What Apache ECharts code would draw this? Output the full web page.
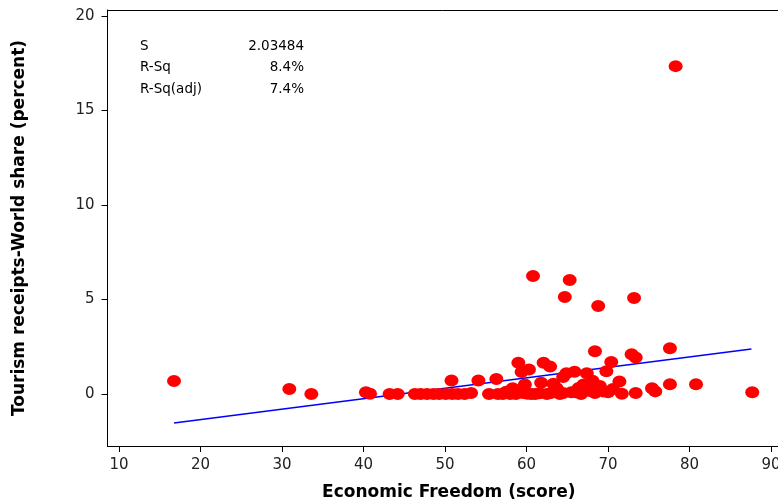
<!DOCTYPE html>
<html>
<head>
<meta charset="utf-8">
<script src="https://cdn.jsdelivr.net/npm/echarts@6/dist/echarts.min.js"></script>
<style>html,body{margin:0;padding:0;background:#fff}#c{width:778px;height:503px}</style>
</head>
<body>
<div id="c"></div>
<script>
// Economic Freedom score (x) and tourism receipts world share % (y)
const freedom = [16.75,30.9,33.6,40.3,40.8,43.2,44.2,46.3,47.0,47.8,48.6,49.3,50.1,50.8,50.9,51.6,52.4,53.2,54.1,55.4,
  56.3,56.5,57.1,57.5,58.0,58.3,58.7,59.0,59.4,59.8,60.1,60.6,60.8,60.3,61.1,61.6,61.8,62.1,62.5,62.9,
  63.0,63.3,63.7,64.1,64.5,64.7,64.9,65.3,65.5,65.9,66.4,66.7,67.0,67.4,67.8,68.1,68.4,68.8,69.0,69.4,
  69.8,70.4,70.6,71.4,71.7,72.9,73.2,73.4,73.4,75.4,75.8,77.6,77.6,78.3,80.8,87.7,59.6,64.5,66.0,68.4,70.0];
const share = [0.69,0.26,0.0,0.1,0.02,0.0,0.0,0.0,0.0,0.0,0.0,0.0,0.0,0.72,0.0,0.0,0.0,0.05,0.72,0.0,
  0.8,0.0,0.0,0.12,0.0,0.3,0.0,1.66,1.16,0.5,0.02,0.0,6.24,1.3,0.0,0.04,0.6,1.66,0.0,1.45,
  0.05,0.55,0.3,0.0,0.9,5.13,1.1,6.03,0.1,1.18,0.32,0.0,0.5,1.1,0.16,0.7,2.26,4.66,0.42,0.14,
  1.2,1.69,0.26,0.66,0.02,2.1,5.08,1.93,0.06,0.3,0.14,2.42,0.52,17.35,0.52,0.1,0.05,0.05,0.1,0.05,0.1];
// fitted line end points
const fitX = [16.75, 87.6];
const fitY = [-1.53, 2.38];
const xTicks = [10,20,30,40,50,60,70,80,90];
const yTicks = [0,5,10,15,20];
const statNames = ['S','R-Sq','R-Sq(adj)'];
const statValues = ['2.03484','8.4%','7.4%'];

const pts = freedom.map((v,i)=>[v, share[i]]);
const fit = fitX.map((v,i)=>[v, fitY[i]]);
const chart = echarts.init(document.getElementById('c'));
const font = 'DejaVu Sans, Verdana, sans-serif';
const graphics = [];
statNames.forEach((n,i)=>{
  graphics.push({type:'text', left:140, top:39+i*21.5, style:{text:n, font:'13.5px '+font, fill:'#000'}});
  graphics.push({type:'text', right:474, top:39+i*21.5, style:{text:statValues[i], font:'13.5px '+font, fill:'#000', textAlign:'right'}});
});
const xMin = 8.59, xMax = 90.86;
chart.setOption({
  animation:false,
  backgroundColor:'#fff',
  grid:{left:107.5, top:10, right:0, bottom:57, show:false, containLabel:false, outerBoundsMode:'none'},
  xAxis:[{type:'value', min:xMin, max:xMax,
    name:'Economic Freedom (score)', nameLocation:'middle', nameGap:38,
    nameTextStyle:{fontFamily:font, fontWeight:'bold', fontSize:17, color:'#000', padding:[0,0,0,12]},
    axisLine:{show:true, onZero:false, lineStyle:{color:'#000', width:1}},
    axisTick:{show:true, length:6, customValues:xTicks, lineStyle:{color:'#000'}},
    axisLabel:{customValues:xTicks, fontFamily:font, fontSize:15, color:'#222', margin:12},
    splitLine:{show:false}},
    {type:'value', position:'top', min:xMin, max:xMax,
    axisLine:{show:true, onZero:false, lineStyle:{color:'#000', width:1}},
    axisTick:{show:false}, axisLabel:{show:false}, splitLine:{show:false}}],
  yAxis:{type:'value', min:-2.75, max:20.32,
    name:'Tourism receipts-World share (percent)', nameLocation:'middle', nameGap:79, nameRotate:90,
    nameTextStyle:{fontFamily:font, fontWeight:'bold', fontSize:17, color:'#000'},
    axisLine:{show:true, onZero:false, lineStyle:{color:'#000', width:1}},
    axisTick:{show:true, length:6, customValues:yTicks, lineStyle:{color:'#000'}},
    axisLabel:{customValues:yTicks, fontFamily:font, fontSize:15, color:'#222', margin:13},
    splitLine:{show:false}},
  graphic:graphics,
  series:[
    {type:'line', data:fit, showSymbol:false, lineStyle:{color:'#0000ff', width:1.5}, z:2},
    {type:'scatter', data:pts, symbol:'circle', symbolSize:[14,12], itemStyle:{color:'#ff0000', opacity:1}, z:3}
  ]
});
</script>
</body>
</html>
